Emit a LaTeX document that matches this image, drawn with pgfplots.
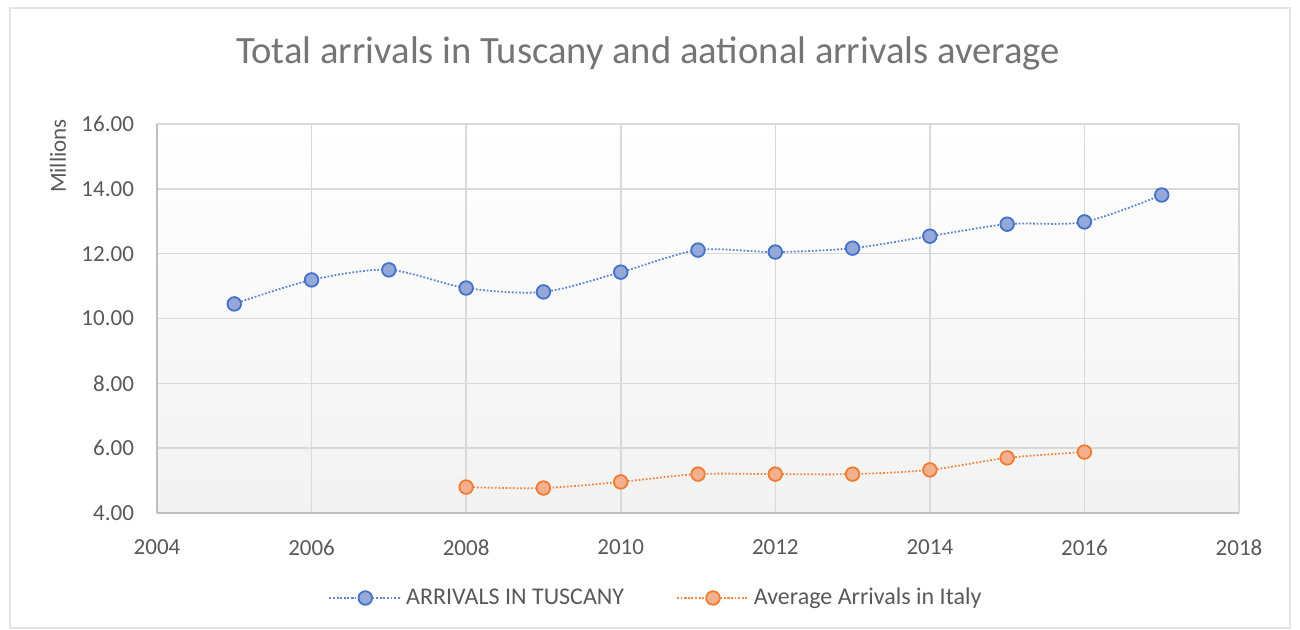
\documentclass[border=0pt]{standalone}
\usepackage{pgfplots}
\pgfplotsset{compat=1.18}
\usepackage{fontspec}
\setmainfont{Carlito}
\definecolor{gridc}{HTML}{D9D9D9}
\definecolor{spinec}{HTML}{BFBFBF}
\definecolor{txtc}{HTML}{595959}
\definecolor{titc}{HTML}{757575}
\definecolor{blueL}{HTML}{4472C4}
\definecolor{blueF}{HTML}{94A9DA}
\definecolor{orL}{HTML}{ED7D31}
\definecolor{orF}{HTML}{F4B08E}
\begin{document}
\begin{tikzpicture}[x=1pt,y=1pt]
\useasboundingbox (0,0) rectangle (650,-315);
\draw[gray!22, line width=0.6pt] (5,-4) rectangle (645,-314);
\node[text=titc, font=\fontsize{19.3}{23}\selectfont] at (324,-26.5) {Total arrivals in Tuscany and aational arrivals average};
\node[text=txtc, rotate=90, font=\fontsize{11.5}{14}\selectfont] at (29,-78) {Millions};
\begin{axis}[
  at={(78.5pt,-256.5pt)}, anchor=south west,
  scale only axis, width=541pt, height=194.5pt,
  xmin=2004, xmax=2018, ymin=4, ymax=16,
  xtick={2004,2006,...,2018}, ytick={4,6,...,16},
  grid=major, major grid style={gridc, line width=0.8pt},
  axis line style={draw=none},
  axis background/.style={top color=white, bottom color=black!5},
  major tick length=0pt,
  tick label style={text=txtc, font=\fontsize{11.5}{14}\selectfont},
  /pgf/number format/assume math mode=true,
  x tick label style={/pgf/number format/1000 sep={}, yshift=-10pt},
  y tick label style={/pgf/number format/.cd, fixed, fixed zerofill, precision=2, /tikz/.cd, xshift=-8pt},
  clip=false,
  legend columns=2,
  legend style={draw=none, fill=none, at={(0.462,-0.2185)}, anchor=center,
    font=\fontsize{12}{14}\selectfont, text=txtc,
    /tikz/every even column/.append style={column sep=24pt}},
  legend cell align=left,
  legend image code/.code={\draw[#1, mark repeat=2, mark phase=2] plot coordinates {(0pt,0pt) (18pt,0pt) (36pt,0pt)};},
]
\draw[spinec, line width=0.8pt] (rel axis cs:0,0) -- (rel axis cs:0,1);
\draw[spinec, line width=0.8pt] (rel axis cs:0,0) -- (rel axis cs:1,0);
\addplot[blueL!85, line width=0.9pt, dash pattern=on 0.9pt off 0.9pt, smooth, tension=0.5,
  mark=*, mark size=3.4pt, mark options={solid, draw=blueL, fill=blueF, line width=0.9pt}]
  coordinates {(2005,10.45) (2006,11.19) (2007,11.50) (2008,10.94) (2009,10.82) (2010,11.43) (2011,12.11) (2012,12.05) (2013,12.17) (2014,12.54) (2015,12.91) (2016,12.98) (2017,13.81)};
\addlegendentry{ARRIVALS IN TUSCANY}
\addplot[orL!90, line width=0.9pt, dash pattern=on 0.9pt off 0.9pt, smooth, tension=0.5,
  mark=*, mark size=3.4pt, mark options={solid, draw=orL, fill=orF, line width=0.9pt}]
  coordinates {(2008,4.80) (2009,4.77) (2010,4.96) (2011,5.20) (2012,5.20) (2013,5.20) (2014,5.33) (2015,5.70) (2016,5.88)};
\addlegendentry{Average Arrivals in Italy}
\end{axis}
\end{tikzpicture}
\end{document}
